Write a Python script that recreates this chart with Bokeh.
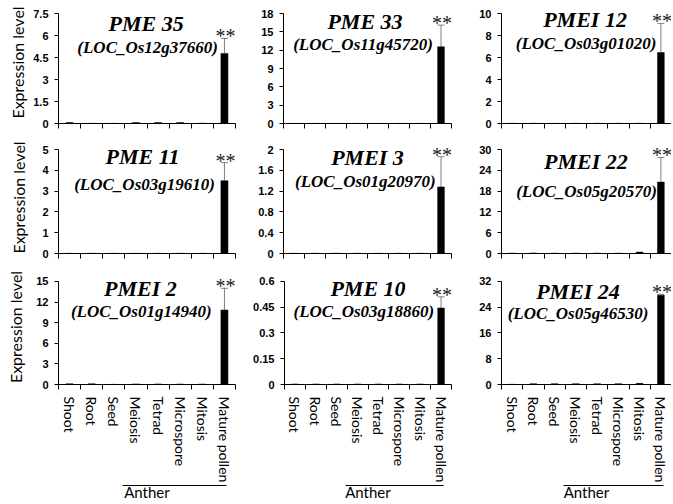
from bokeh.plotting import figure
from bokeh.models import (Range1d, FixedTicker, LinearAxis, Label, Whisker,
                          TeeHead, ColumnDataSource)
from bokeh.layouts import column, row
from bokeh.embed import file_html
from bokeh.resources import INLINE

# ---------------- data ----------------
categories = ["Shoot", "Root", "Seed", "Meiosis", "Tetrad", "Microspore",
              "Mitosis", "Mature pollen"]

genes = ["PME 35", "PME 33", "PMEI 12", "PME 11", "PMEI 3", "PMEI  22",
         "PMEI 2", "PME 10", "PMEI 24"]
loci = ["(LOC_Os12g37660)", "(LOC_Os11g45720)", "(LOC_Os03g01020)",
        "(LOC_Os03g19610)", "(LOC_Os01g20970)", "(LOC_Os05g20570)",
        "(LOC_Os01g14940)", "(LOC_Os03g18860)", "(LOC_Os05g46530)"]

pme35 = [0.06, 0.01, 0.01, 0.06, 0.06, 0.06, 0.02, 4.78]
pme33 = [0.02, 0.02, 0.01, 0.02, 0.02, 0.02, 0.02, 12.55]
pmei12 = [0.02, 0.02, 0.01, 0.02, 0.02, 0.02, 0.02, 6.45]
pme11 = [0.01, 0.01, 0.01, 0.01, 0.01, 0.01, 0.01, 3.50]
pmei3 = [0.005, 0.005, 0.005, 0.005, 0.005, 0.005, 0.005, 1.28]
pmei22 = [0.1, 0.15, 0.1, 0.1, 0.1, 0.1, 0.4, 20.6]
pmei2 = [0.1, 0.1, 0.02, 0.08, 0.08, 0.06, 0.06, 10.84]
pme10 = [0.003, 0.003, 0.003, 0.003, 0.003, 0.003, 0.003, 0.445]
pmei24 = [0.05, 0.25, 0.25, 0.25, 0.25, 0.25, 0.35, 27.7]

pme35_err = [0, 0, 0, 0, 0, 0, 0, 1.02]
pme33_err = [0, 0, 0, 0, 0, 0, 0, 3.55]
pmei12_err = [0, 0, 0, 0, 0, 0, 0, 2.65]
pme11_err = [0, 0, 0, 0, 0, 0, 0, 0.87]
pmei3_err = [0, 0, 0, 0, 0, 0, 0, 0.58]
pmei22_err = [0, 0, 0, 0, 0, 0, 0, 7.1]
pmei2_err = [0, 0, 0, 0, 0, 0, 0, 3.16]
pme10_err = [0, 0, 0, 0, 0, 0, 0, 0.065]
pmei24_err = [0, 0, 0, 0, 0, 0, 0, 0.3]

pme35_ticks = [0, 1.5, 3, 4.5, 6, 7.5]
pme33_ticks = [0, 3, 6, 9, 12, 15, 18]
pmei12_ticks = [0, 2, 4, 6, 8, 10]
pme11_ticks = [0, 1, 2, 3, 4, 5]
pmei3_ticks = [0, 0.4, 0.8, 1.2, 1.6, 2]
pmei22_ticks = [0, 6, 12, 18, 24, 30]
pmei2_ticks = [0, 3, 6, 9, 12, 15]
pme10_ticks = [0, 0.15, 0.3, 0.45, 0.6]
pmei24_ticks = [0, 8, 16, 24, 32]

pme35_labels = ["0", "1.5", "3", "4.5", "6", "7.5"]
pme33_labels = ["0", "3", "6", "9", "12", "15", "18"]
pmei12_labels = ["0", "2", "4", "6", "8", "10"]
pme11_labels = ["0", "1", "2", "3", "4", "5"]
pmei3_labels = ["0", "0.4", "0.8", "1.2", "1.6", "2"]
pmei22_labels = ["0", "6", "12", "18", "24", "30"]
pmei2_labels = ["0", "3", "6", "9", "12", "15"]
pme10_labels = ["0", "0.15", "0.3", "0.45", "0.6"]
pmei24_labels = ["0", "8", "16", "24", "32"]

significance = "**"
group_label = "Anther"
group_span = (2.9, 7.6)   # Meiosis ... Mature pollen
y_title = "Expression level"

values = [pme35, pme33, pmei12, pme11, pmei3, pmei22, pmei2, pme10, pmei24]
errors = [pme35_err, pme33_err, pmei12_err, pme11_err, pmei3_err, pmei22_err,
          pmei2_err, pme10_err, pmei24_err]
yticks = [pme35_ticks, pme33_ticks, pmei12_ticks, pme11_ticks, pmei3_ticks,
          pmei22_ticks, pmei2_ticks, pme10_ticks, pmei24_ticks]
ylabels = [pme35_labels, pme33_labels, pmei12_labels, pme11_labels,
           pmei3_labels, pmei22_labels, pmei2_labels, pme10_labels,
           pmei24_labels]

# ---------------- layout (styling only) ----------------
col_geom = [(250, 58, 15), (218, 33, 17), (203, 33, 0)]      # width, left, right
# height, top of axis (px from row top), bottom border
row_geom = [(140, 13, 17), (128, 9, 15), (235, 13, 118)]
TOP_BORDER = 1    # frame extends above the axis top so marks are not clipped
title_x = [3.96, 3.88, 3.93, 3.8, 4.0, 4.1, 3.7, 4.0, 3.6]
sub_x = [4.03, 3.79, 3.98, 3.89, 3.9, 4.0, 3.74, 3.8, 3.6]
title_dy = [10, 8, 6, 7, 8, 12, 7, 7, 10]
sub_dy = [34, 31, 30, 35, 32, 42, 30, 30, 32]
ylab_standoff = {0: 3, 3: 11, 6: 8}

SANS = "Lato"
TICKFONT = "Liberation Sans"
SERIF = "Liberation Serif"

n = len(categories)
xs = [i + 0.5 for i in range(n)]
bounds_x = list(range(n + 1))


def make_panel(k):
    w, bl, br = col_geom[k % 3]
    h, axis_top, bb = row_geom[k // 3]
    ytop = yticks[k][-1]
    axis_h = h - axis_top - bb
    frame_h = h - TOP_BORDER - bb
    yend = ytop * frame_h / axis_h
    p = figure(width=w, height=h, output_backend="svg", toolbar_location=None,
               x_range=Range1d(0, n), y_range=Range1d(0, yend),
               min_border_left=bl, min_border_right=br,
               min_border_top=TOP_BORDER, min_border_bottom=bb,
               x_axis_type=None, y_axis_type=None)
    p.outline_line_color = None
    p.grid.visible = False
    p.background_fill_color = "white"
    p.border_fill_color = "white"

    # x axis: ticks at category boundaries (minor), labels at centres
    bottom_row = k >= 6
    xt = FixedTicker(ticks=xs if bottom_row else [], minor_ticks=bounds_x)
    xa = LinearAxis(ticker=xt)
    xa.axis_line_color = "black"
    xa.major_tick_line_color = None
    xa.major_tick_out = 0
    xa.major_tick_in = 0
    xa.minor_tick_line_color = "black"
    xa.minor_tick_out = 5
    xa.minor_tick_in = 0
    xa.major_label_standoff = 7
    if bottom_row:
        xa.major_label_overrides = {x: c for x, c in zip(xs, categories)}
        xa.major_label_orientation = "vertical"
        xa.major_label_text_font = SANS
        xa.major_label_text_font_size = "14px"
        xa.major_label_text_color = "black"
    p.add_layout(xa, "below")

    if bottom_row:
        ga = LinearAxis(ticker=FixedTicker(ticks=[]), bounds=group_span)
        ga.axis_line_color = "black"
        ga.axis_line_width = 1
        ga.major_tick_line_color = None
        ga.minor_tick_line_color = None
        ga.axis_label = group_label
        ga.axis_label_text_font = SANS
        ga.axis_label_text_font_size = "15px"
        ga.axis_label_text_font_style = "normal"
        ga.axis_label_text_color = "black"
        ga.axis_label_standoff = -3
        p.add_layout(ga, "below")

    # y axis
    ya = LinearAxis(ticker=FixedTicker(ticks=yticks[k]), bounds=(0, ytop))
    ya.major_label_overrides = {t: s for t, s in zip(yticks[k], ylabels[k])}
    ya.axis_line_color = "black"
    ya.major_tick_line_color = "black"
    ya.major_tick_out = 4
    ya.major_tick_in = 0
    ya.minor_tick_line_color = None
    ya.major_label_text_font = TICKFONT
    ya.major_label_text_font_style = "bold"
    ya.major_label_text_font_size = "11px"
    ya.major_label_text_color = "black"
    ya.major_label_standoff = 6
    if k in ylab_standoff:
        ya.axis_label = y_title
        ya.axis_label_text_font = SANS
        ya.axis_label_text_font_size = "16px"
        ya.axis_label_text_font_style = "normal"
        ya.axis_label_text_color = "black"
        ya.axis_label_standoff = ylab_standoff[k]
    p.add_layout(ya, "left")

    # bars
    src = ColumnDataSource(dict(x=xs, top=values[k]))
    p.vbar(x="x", top="top", width=0.32, source=src,
           fill_color="black", line_color="black", line_width=0.5)

    # error bars (upper only)
    idx = [i for i in range(n) if errors[k][i] > 0]
    esrc = ColumnDataSource(dict(
        x=[xs[i] for i in idx],
        lower=[values[k][i] for i in idx],
        upper=[values[k][i] + errors[k][i] for i in idx]))
    wh = Whisker(source=esrc, base="x", lower="lower", upper="upper",
                 dimension="height", line_color="#808080", line_width=1,
                 lower_head=None,
                 upper_head=TeeHead(size=7, line_color="#808080", line_width=1))
    p.add_layout(wh)

    # significance marks
    for i in idx:
        p.add_layout(Label(x=xs[i], y=values[k][i] + errors[k][i], x_offset=1,
                           y_offset=2, text=significance, text_align="center",
                           text_baseline="alphabetic", text_font=SERIF,
                           text_font_size="20px", text_color="#222222"))

    # gene titles
    p.add_layout(Label(x=title_x[k], y=ytop, y_offset=-title_dy[k],
                       text=genes[k], text_align="center",
                       text_baseline="middle", text_font=SERIF,
                       text_font_style="bold italic", text_font_size="22px",
                       text_color="black"))
    p.add_layout(Label(x=sub_x[k], y=ytop, y_offset=-sub_dy[k],
                       text=loci[k], text_align="center",
                       text_baseline="middle", text_font=SERIF,
                       text_font_style="bold italic", text_font_size="17px",
                       text_color="black"))
    return p


panels = [make_panel(k) for k in range(9)]
layout = column(row(*panels[0:3]), row(*panels[3:6]), row(*panels[6:9]))

open("out.html", "w").write(file_html(layout, INLINE))
